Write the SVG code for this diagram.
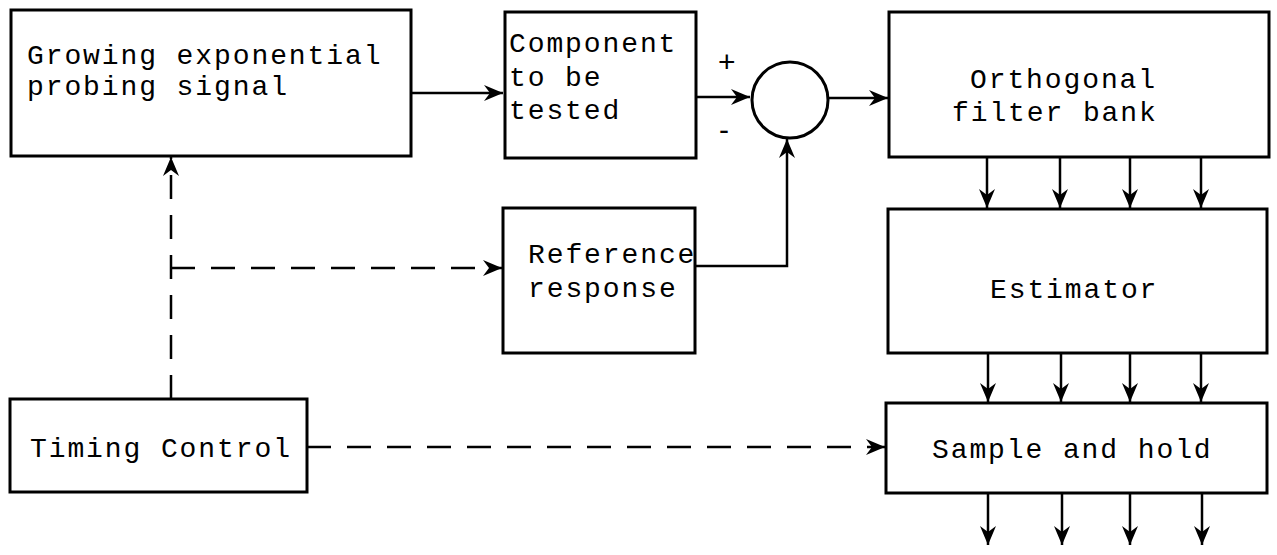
<svg xmlns="http://www.w3.org/2000/svg" width="1277" height="555" viewBox="0 0 1277 555">
<style>
.box{fill:#fff;stroke:#000;stroke-width:3}
.t{font-family:"Liberation Mono","Courier New",monospace;font-size:28px;letter-spacing:1.9px;fill:#000}
.ln{fill:none;stroke:#000;stroke-width:2.5}
.dash{fill:none;stroke:#000;stroke-width:2.5;stroke-dasharray:24 16}
.sign{font-family:"Liberation Sans",Arial,sans-serif;font-size:30px;fill:#000}
</style>
<defs>
<marker id="ah" markerUnits="userSpaceOnUse" markerWidth="20" markerHeight="16" refX="19" refY="8" orient="auto">
<path d="M0,0 L19,8 L0,16 L6,8 z" fill="#000"/>
</marker>
</defs>
<g id="node-growing">
<rect class="box" x="11" y="10" width="400" height="146"/>
<text class="t" x="27" y="64">Growing exponential</text>
<text class="t" x="27" y="95">probing signal</text>
</g>
<g id="node-component">
<rect class="box" x="505" y="12" width="191" height="146"/>
<text class="t" x="509" y="52">Component</text>
<text class="t" x="509" y="86">to be</text>
<text class="t" x="509" y="119">tested</text>
</g>
<g id="node-sum">
<circle cx="790" cy="100" r="38" fill="#fff" stroke="#000" stroke-width="3"/>
<text class="sign" x="718" y="72">+</text>
<text class="sign" x="719" y="140">-</text>
</g>
<g id="node-orthogonal">
<rect class="box" x="889" y="12" width="380" height="145"/>
<text class="t" x="970" y="88">Orthogonal</text>
<text class="t" x="952" y="121">filter bank</text>
</g>
<g id="node-reference">
<rect class="box" x="503" y="208" width="192" height="145"/>
<text class="t" x="528" y="263">Reference</text>
<text class="t" x="528" y="297">response</text>
</g>
<g id="node-estimator">
<rect class="box" x="888" y="209" width="379" height="144"/>
<text class="t" x="990" y="298">Estimator</text>
</g>
<g id="node-timing">
<rect class="box" x="10" y="399" width="297" height="93"/>
<text class="t" x="30" y="457">Timing Control</text>
</g>
<g id="node-sample">
<rect class="box" x="886" y="403" width="381" height="90"/>
<text class="t" x="932" y="458">Sample and hold</text>
</g>
<g id="connectors">
<path class="ln" d="M411,93 L503,93" marker-end="url(#ah)"/>
<path class="ln" d="M696,97 L750,97" marker-end="url(#ah)"/>
<path class="ln" d="M828,98 L888,98" marker-end="url(#ah)"/>
<path class="ln" d="M695,266 L787,266 L787,139" marker-end="url(#ah)"/>
<path class="ln" d="M987,157 L987,208" marker-end="url(#ah)"/>
<path class="ln" d="M1060,157 L1060,208" marker-end="url(#ah)"/>
<path class="ln" d="M1130,157 L1130,208" marker-end="url(#ah)"/>
<path class="ln" d="M1201,157 L1201,208" marker-end="url(#ah)"/>
<path class="ln" d="M988,353 L988,402" marker-end="url(#ah)"/>
<path class="ln" d="M1061,353 L1061,402" marker-end="url(#ah)"/>
<path class="ln" d="M1130,353 L1130,402" marker-end="url(#ah)"/>
<path class="ln" d="M1201,353 L1201,402" marker-end="url(#ah)"/>
<path class="ln" d="M988,493 L988,545" marker-end="url(#ah)"/>
<path class="ln" d="M1062,493 L1062,545" marker-end="url(#ah)"/>
<path class="ln" d="M1130,493 L1130,545" marker-end="url(#ah)"/>
<path class="ln" d="M1202,493 L1202,545" marker-end="url(#ah)"/>
<path class="dash" d="M171,399 L171,157" marker-end="url(#ah)"/>
<path class="dash" d="M171,268 L502,268" marker-end="url(#ah)"/>
<path class="dash" d="M307,447 L885,447" marker-end="url(#ah)"/>
</g>
</svg>
